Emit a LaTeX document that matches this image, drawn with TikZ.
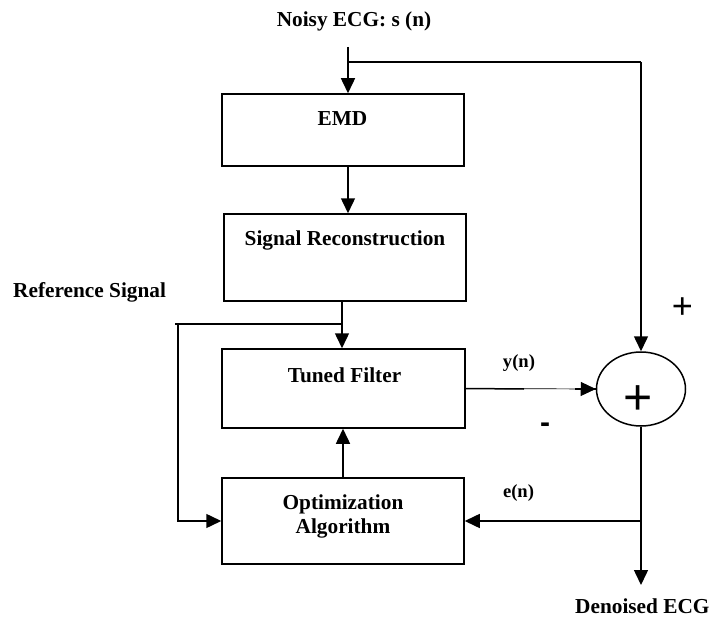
\documentclass[tikz,border=0pt]{standalone}
\usepackage{fontspec}
\setmainfont{Liberation Serif}
\newfontfamily\signfont{Liberation Sans}
\usetikzlibrary{arrows.meta,positioning,shapes.geometric}

\begin{document}
\begin{tikzpicture}[x=1pt, y=-1pt,
  box/.style={draw, line width=1.5pt, inner sep=0pt},
  lbl/.style={font=\fontsize{21.3}{24}\selectfont\bfseries, anchor=base, inner sep=0pt},
  sig/.style={font=\fontsize{18.6}{20}\selectfont\bfseries, anchor=base, inner sep=0pt},
  sign/.style={inner sep=0pt, font=\signfont\fontsize{36}{36}\selectfont},
  arr/.style={-{Triangle[length=15pt,width=14pt]}, line width=1.5pt},
  ln/.style={line width=1.5pt}]
  \useasboundingbox (0,0) rectangle (724,618);

  \node[box, minimum width=242pt, minimum height=72pt] (emd) at (343,130) {};
  \node[lbl] (emdtxt) at (342.5,126) {EMD};
  \node[box, minimum width=242pt, minimum height=87pt] (rec) at (345,257.5) {};
  \node[lbl] (rectxt) at (345,245) {Signal Reconstruction};
  \node[box, minimum width=243pt, minimum height=79pt] (tf) at (343.5,388.5) {};
  \node[lbl] (tftxt) at (344.5,382) {Tuned Filter};
  \node[box, minimum width=242pt, minimum height=86pt] (opt) at (343,521) {};
  \node[lbl, align=center, anchor=center] (opttxt) at (343,516.2) {Optimization\\Algorithm};
  \node[draw, ellipse, line width=1.5pt, minimum width=89pt, minimum height=74pt,
        inner sep=0pt] (sum) at (641,389) {};
  \node[sign, font=\signfont\fontsize{50}{50}\selectfont] (sumplus) at (638,400) {+};

  \node[lbl] (noisy) at (354,27) {Noisy ECG: s (n)};
  \node[lbl, anchor=base west] (refsig) at (13,297) {Reference Signal};
  \node[sig] (yn) at (519,367) {y(n)};
  \node[sig] (en) at (518.5,497) {e(n)};
  \node[lbl, anchor=base west] (denoised) at (575,613.5) {Denoised ECG};
  \node[sign] (plus) at (682.5,308) {+};
  \node[sign, font=\signfont\bfseries\fontsize{30}{30}\selectfont] (minus) at (545,428) {-};

  \coordinate (in) at (348,47);
  \coordinate (split) at (348,62);
  \coordinate (corner) at (sum.north |- split);
  \coordinate (refstart) at (175,324);
  \coordinate (refjoin) at (342,324);
  \coordinate (refcorner) at (178,324);
  \coordinate (ythick) at (524,389);
  \coordinate (ytick) at (575,389);
  \coordinate (out) at (641,585);
  \coordinate (errjoin) at (sum.south |- opt.east);

  \draw[arr] (in) -- (in |- emd.north);
  \draw[ln] (split) -- (corner);
  \draw[arr] (corner) -- (sum.north);
  \draw[arr] (in |- emd.south) -- (in |- rec.north);
  \draw[ln] (refstart) -- (refjoin);
  \draw[arr] (rec.south -| refjoin) -- (tf.north -| refjoin);
  \draw[arr] (refcorner) |- (opt.west);
  \draw[arr] (opt.north) -- (opt.north |- tf.south);
  \draw[arr, line width=0.7pt] (tf.east) -- (sum.west);
  \draw[ln] (tf.east) -- (ythick);
  \draw[ln] (ytick) -- (sum.west);
  \draw[arr] (sum.south) -- (out);
  \draw[arr] (errjoin) -- (opt.east);
\end{tikzpicture}
\end{document}
